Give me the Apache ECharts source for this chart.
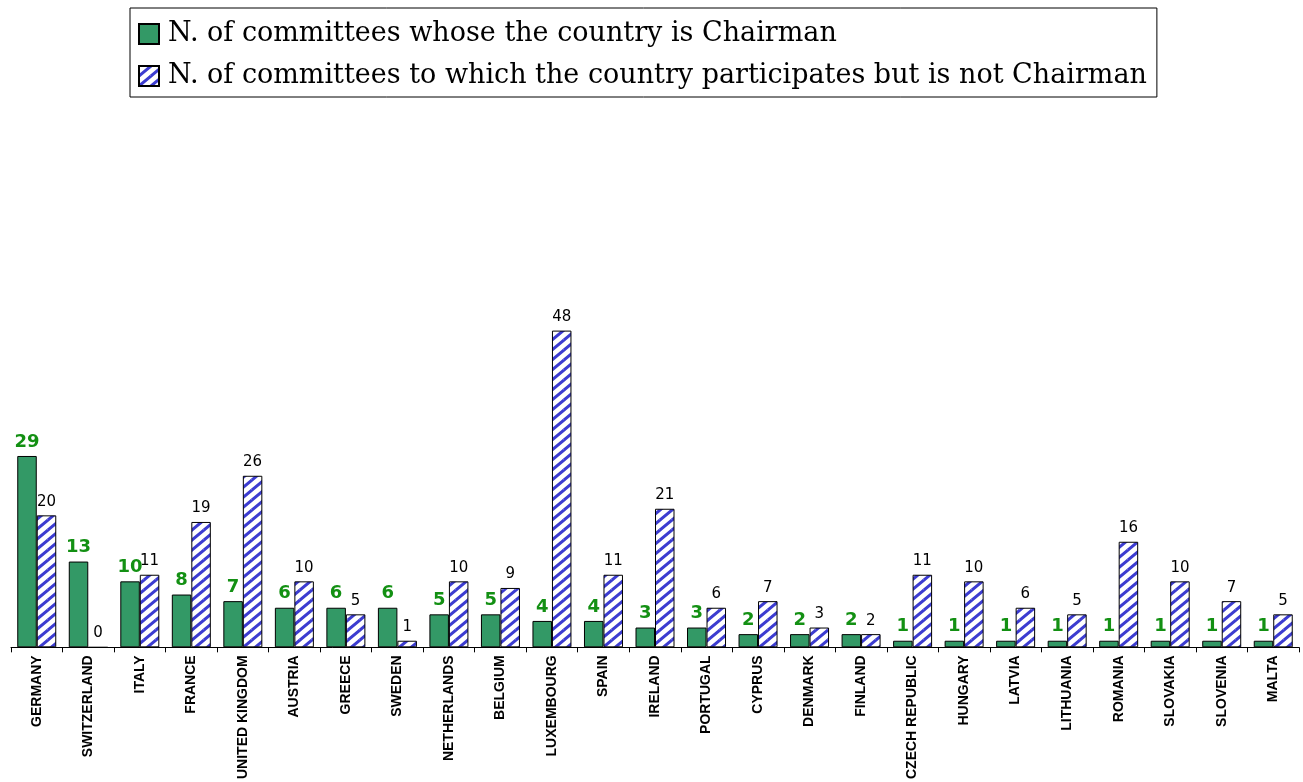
<!DOCTYPE html>
<html><head><meta charset="utf-8">
<script src="https://cdn.jsdelivr.net/npm/echarts@6/dist/echarts.min.js"></script>
<style>html,body{margin:0;padding:0;background:#fff}#c{width:1303px;height:782px}</style>
</head><body><div id="c"></div>
<script>
var categories = ["GERMANY","SWITZERLAND","ITALY","FRANCE","UNITED KINGDOM","AUSTRIA","GREECE","SWEDEN","NETHERLANDS","BELGIUM","LUXEMBOURG","SPAIN","IRELAND","PORTUGAL","CYPRUS","DENMARK","FINLAND","CZECH REPUBLIC","HUNGARY","LATVIA","LITHUANIA","ROMANIA","SLOVAKIA","SLOVENIA","MALTA"];
var chairman = [29,13,10,8,7,6,6,6,5,5,4,4,3,3,2,2,2,1,1,1,1,1,1,1,1];
var participates = [20,0,11,19,26,10,5,1,10,9,48,11,21,6,7,3,2,11,10,6,5,16,10,7,5];
var seriesNames = ["N. of committees whose the country is Chairman","N. of committees to which the country participates but is not Chairman"];

function hatch(){
  var w = 12, h = 10, cv = document.createElement('canvas');
  cv.width = w; cv.height = h;
  var g = cv.getContext('2d');
  g.fillStyle = '#ffffff'; g.fillRect(0,0,w,h);
  g.strokeStyle = '#3c3cd0'; g.lineWidth = 3.0;
  g.beginPath();
  for (var i = -1; i <= 1; i++) for (var j = -1; j <= 1; j++) {
    g.moveTo(i*w, h + j*h); g.lineTo(w + i*w, j*h);
  }
  g.stroke();
  return cv;
}
var pat = {image: hatch(), repeat: 'repeat'};

var chart = echarts.init(document.getElementById('c'));
chart.setOption({
  animation: false,
  legend: {
    orient: 'vertical', left: 130, top: 8,
    padding: [9, 10, 4, 8], itemGap: 8,
    itemWidth: 20, itemHeight: 20,
    borderColor: '#000', borderWidth: 1,
    icon: 'rect',
    textStyle: {fontFamily: 'DejaVu Serif', fontSize: 27, color: '#000', lineHeight: 34, padding: [0,0,0,4]},
    data: seriesNames
  },
  grid: {left: 11, right: 4, top: 317.4, bottom: 133},
  xAxis: {
    type: 'category', data: categories,
    axisLine: {lineStyle: {color: '#000', width: 1}},
    axisTick: {show: true, length: 5, lineStyle: {color: '#000'}},
    axisLabel: {interval: 0, rotate: 90, margin: 8, color: '#000', fontFamily: 'Liberation Sans', fontWeight: 'bold', fontSize: 14}
  },
  yAxis: {type: 'value', min: 0, max: 50, show: false, splitLine: {show: false}},
  series: [
    {
      name: seriesNames[0], type: 'bar', data: chairman,
      barWidth: 19.5, barGap: '0%',
      itemStyle: {color: '#339966', borderColor: '#000', borderWidth: 1},
      label: {show: true, position: 'top', distance: 5, color: '#139013', fontFamily: 'DejaVu Sans', fontWeight: 'bold', fontSize: 18}
    },
    {
      name: seriesNames[1], type: 'bar', data: participates,
      barWidth: 19.5,
      itemStyle: {color: pat, borderColor: '#000', borderWidth: 1},
      label: {show: true, position: 'top', distance: 6, color: '#000', fontFamily: 'DejaVu Sans', fontSize: 15}
    }
  ]
});
</script></body></html>
